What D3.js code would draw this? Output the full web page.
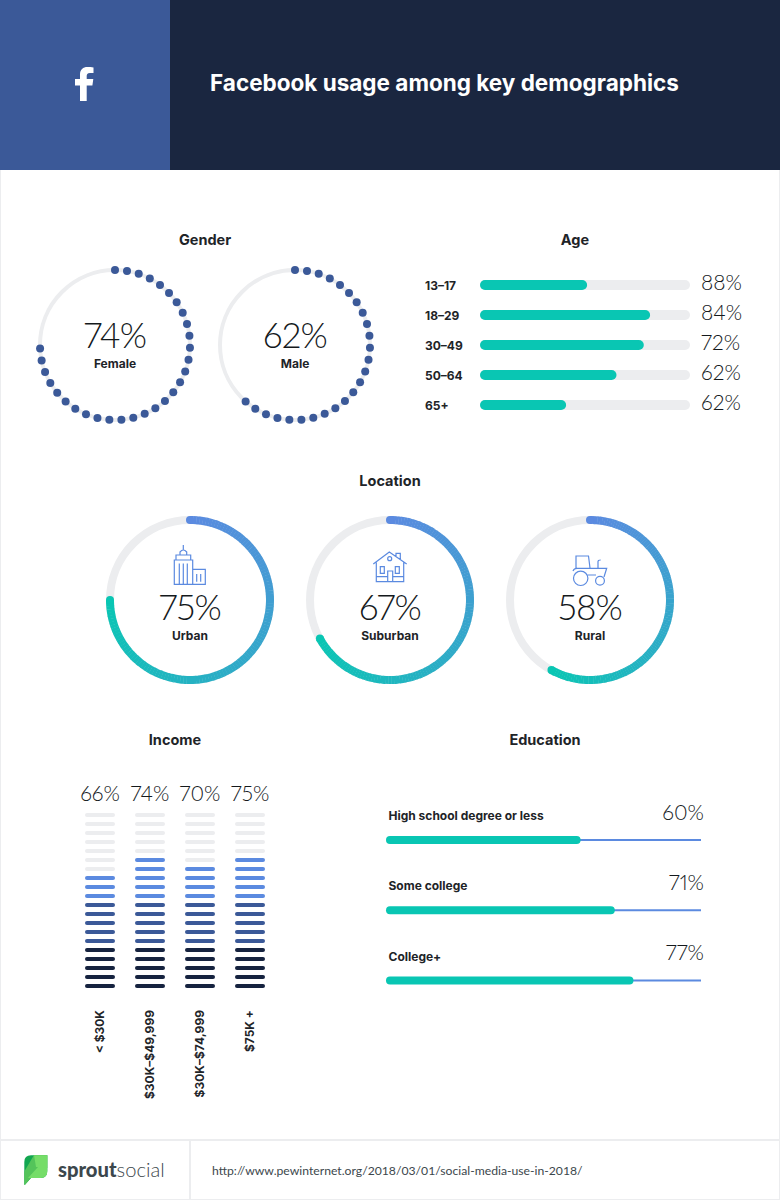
<!DOCTYPE html>
<html>
<head>
<meta charset="utf-8">
<script src="https://cdnjs.cloudflare.com/ajax/libs/d3/7.8.5/d3.min.js"></script>
<style>
  html, body { margin: 0; padding: 0; background: #fff; }
  svg { display: block; font-family: Inter, Lato, sans-serif; }
  .title { font-size: 14.5px; font-weight: 700; fill: #1e2428; text-anchor: middle; }
  .big { font-family: Lato, sans-serif; font-weight: 300; fill: #14191c; font-variant-numeric: proportional-nums; }
  .small { font-size: 12px; font-weight: 700; fill: #1e2428; }
  .icon { fill: none; stroke: #5b8ae0; stroke-width: 1.2; }
</style>
</head>
<body>
<svg id="chart" width="780" height="1200"></svg>
<script>
const genderLabels = ['Female', 'Male'];
const genderValues = [74, 62];

const ageLabels = ['13–17', '18–29', '30–49', '50–64', '65+'];
const ageBars = [51, 81, 78, 65, 41];
const agePercents = ['88%', '84%', '72%', '62%', '62%'];

const locationLabels = ['Urban', 'Suburban', 'Rural'];
const locationValues = [75, 67, 58];

const incomeLabels = ['< $30K', '$30K–$49,999', '$30K–$74,999', '$75K +'];
const incomeValues = [66, 74, 70, 75];

const eduLabels = ['High school degree or less', 'Some college', 'College+'];
const eduValues = [60, 71, 77];

const navy = '#1a2640', fbBlue = '#3b5998', lightBlue = '#5b8ae0', teal = '#09c6b3', track = '#ecedef';

const svg = d3.select('#chart');
const angle = d3.scaleLinear().domain([0, 100]).range([0, 2 * Math.PI]);

// header
svg.append('rect').attr('width', 780).attr('height', 170).attr('fill', navy);
svg.append('rect').attr('width', 170).attr('height', 170).attr('fill', fbBlue);
svg.append('path').attr('fill', '#fff')
  .attr('d', 'M80,101 V85.5 H75 V79 H80 V74.5 C80,69.5 83,67 87.5,67 C89.5,67 91.5,67.2 93.5,67.4 V73 H90 C87.2,73 86.7,74.3 86.7,76.2 V79 H93.3 L92.4,85.5 H86.7 V101 Z');
svg.append('text').attr('x', 210).attr('y', 91)
  .attr('fill', '#fff').attr('font-size', 22.5).attr('font-weight', 700)
  .text('Facebook usage among key demographics');

// page frame
svg.append('path').attr('fill', 'none').attr('stroke', track).attr('stroke-width', 2)
  .attr('d', 'M0,170 V1200 M780,170 V1200 M0,1140 H780 M190,1140 V1200 M0,1200 H780');

const sections = [['Gender', 205, 245], ['Age', 575, 245], ['Location', 390, 486], ['Income', 175, 745], ['Education', 545, 745]];
svg.selectAll('.title').data(sections).join('text')
  .attr('class', 'title').attr('x', d => d[1]).attr('y', d => d[2]).text(d => d[0]);

// gender dot rings
const dotStep = 2.56;
const genderX = d3.scalePoint().domain(genderLabels).range([115, 295]);
genderLabels.forEach((name, i) => {
  const g = svg.append('g').attr('transform', `translate(${genderX(name)},345)`);
  g.append('circle').attr('r', 75).attr('fill', 'none').attr('stroke', track).attr('stroke-width', 4);
  g.selectAll('.dot').data(d3.range(0, genderValues[i] + 1, dotStep)).join('circle')
    .attr('class', 'dot').attr('r', 4).attr('fill', fbBlue)
    .attr('cx', d => 75 * Math.sin(angle(d)))
    .attr('cy', d => -75 * Math.cos(angle(d)));
  g.append('text').attr('class', 'big').attr('text-anchor', 'middle').attr('y', 3).attr('font-size', 35)
    .attr('letter-spacing', -0.8).text(genderValues[i] + '%');
  g.append('text').attr('class', 'small').attr('text-anchor', 'middle').attr('y', 23).text(name);
});

// age bars
const ageX = d3.scaleLinear().domain([0, 100]).range([480, 690]);
const ageY = d3.scalePoint().domain(ageLabels).range([285, 405]);
const ageRows = svg.selectAll('.age').data(ageLabels).join('g').attr('class', 'age')
  .attr('transform', d => `translate(0,${ageY(d)})`);
ageRows.append('rect').attr('x', ageX(0)).attr('y', -5).attr('height', 10).attr('rx', 5)
  .attr('width', ageX(100) - ageX(0)).attr('fill', track);
ageRows.append('rect').attr('x', ageX(0)).attr('y', -5).attr('height', 10).attr('rx', 5)
  .attr('width', (d, i) => ageX(ageBars[i]) - ageX(0)).attr('fill', teal);
ageRows.append('text').attr('class', 'small').attr('x', 425).attr('y', 4.5).text(d => d);
ageRows.append('text').attr('class', 'big').attr('x', 701).attr('y', 5).attr('font-size', 21)
  .text((d, i) => agePercents[i]);

// location rings, colour runs along the arc
const ringX = d3.scalePoint().domain(locationLabels).range([190, 590]);
const ringArc = d3.arc().innerRadius(76).outerRadius(84);
const ringColor = d3.interpolateRgb(lightBlue, teal);
locationLabels.forEach((name, i) => {
  const g = svg.append('g').attr('transform', `translate(${ringX(name)},600)`);
  g.append('circle').attr('r', 80).attr('fill', 'none').attr('stroke', track).attr('stroke-width', 8);
  const v = locationValues[i];
  const steps = d3.range(0, 120).map(k => k / 120);
  g.selectAll('.seg').data(steps).join('path').attr('class', 'seg')
    .attr('fill', d => ringColor(d))
    .attr('d', d => ringArc({ startAngle: angle(v * d), endAngle: angle(v * (d + 1 / 120)) + 0.004 }));
  [0, 1].forEach(t => {
    g.append('circle').attr('r', 4).attr('fill', ringColor(t))
      .attr('cx', 80 * Math.sin(angle(v * t)))
      .attr('cy', -80 * Math.cos(angle(v * t)));
  });
  g.append('text').attr('class', 'big').attr('text-anchor', 'middle').attr('y', 20).attr('font-size', 35)
    .attr('letter-spacing', -0.8).text(v + '%');
  g.append('text').attr('class', 'small').attr('text-anchor', 'middle').attr('y', 40).text(name);
});

// location icons
const icons = svg.append('g').attr('class', 'icon');
icons.append('path').attr('d',
  'M174.3,584.3 V560 H192.7 V584.3 Z M176,560 V555 H190.7 V560 M180,555 V552 Q183.3,548 186.7,552 V555 M183.3,549.5 V545 ' +
  'M179.3,563.5 V584 M183.3,563.5 V584 M187.3,563.5 V584 M192.7,569.3 H205.3 V584.3 H192.7 M196.7,574 V581.7 M200.7,574 V581.7');
icons.append('path').attr('d',
  'M373.3,564 L389.3,552 L406.7,564 M376.3,562.5 V581.7 H403.7 V562.5 M376.3,576.7 H387.7 M392.7,576.7 H403.7 ' +
  'M387.7,581.7 V571 H392.7 V581.7 M380.3,566.7 H384.3 V573.3 H380.3 Z M395.3,566.7 H399.3 V573.3 H395.3 Z M396,556 V553.3 H400.3 V559');
icons.append('circle').attr('cx', 389.7).attr('cy', 558.7).attr('r', 2);
icons.append('path').attr('d',
  'M576,568 V556 H588.5 L590,568 M573,571 Q574,568.3 577,568.3 H606.7 L604,577 M587.5,575 H596 M598,568.3 V561.5 Q598,560 600.7,560');
icons.append('circle').attr('cx', 580.7).attr('cy', 578.3).attr('r', 7.2);
icons.append('circle').attr('cx', 600).attr('cy', 580.7).attr('r', 4.4);

// income stacks: each tick is 5%
const incomeX = d3.scalePoint().domain(incomeLabels).range([100, 250]);
const tickY = d3.scaleLinear().domain([0, 19]).range([986, 815]);
const tickColor = k => k < 5 ? '#16233f' : k < 10 ? fbBlue : lightBlue;
incomeLabels.forEach((name, i) => {
  const g = svg.append('g').attr('transform', `translate(${incomeX(name)},0)`);
  const filled = Math.round(incomeValues[i] / 5);
  g.selectAll('rect').data(d3.range(20)).join('rect')
    .attr('x', -15).attr('width', 30).attr('height', 4).attr('rx', 2)
    .attr('y', d => tickY(d) - 2)
    .attr('fill', d => d < filled ? tickColor(d) : track);
  g.append('text').attr('class', 'big').attr('text-anchor', 'middle').attr('y', 801).attr('font-size', 21).text(incomeValues[i] + '%');
  g.append('text').attr('class', 'small').attr('text-anchor', 'end')
    .attr('transform', 'translate(3.5,1010) rotate(-90)').text(name);
});

// education bars
const eduX = d3.scaleLinear().domain([0, 100]).range([390, 701]);
const eduY = d3.scalePoint().domain(eduLabels).range([840, 980.6]);
const eduRows = svg.selectAll('.edu').data(eduLabels).join('g').attr('class', 'edu')
  .attr('transform', d => `translate(0,${eduY(d)})`);
eduRows.append('line').attr('x1', eduX(0)).attr('x2', eduX(100)).attr('stroke', lightBlue).attr('stroke-width', 2);
eduRows.append('line').attr('x1', eduX(0)).attr('x2', (d, i) => eduX(eduValues[i]))
  .attr('stroke', teal).attr('stroke-width', 8).attr('stroke-linecap', 'round');
eduRows.append('text').attr('class', 'small').attr('x', 388.5).attr('y', -20).text(d => d);
eduRows.append('text').attr('class', 'big').attr('x', 704).attr('y', -20.5).attr('text-anchor', 'end').attr('font-size', 21)
  .text((d, i) => eduValues[i] + '%');

// footer
const leaf = 'M24.3,1162 Q24.3,1155.3 31,1155.3 H47.3 V1171 Q47.3,1178 41,1178 H31 L25,1184.7 H24.3 Z';
svg.append('clipPath').attr('id', 'leaf').append('path').attr('d', leaf);
const logo = svg.append('g').attr('clip-path', 'url(#leaf)');
logo.append('rect').attr('x', 24).attr('y', 1155).attr('width', 24).attr('height', 30).attr('fill', '#12a650');
logo.append('path').attr('fill', '#54c45a').attr('d', 'M34,1155 H48 V1168 H40 L27,1185 H24 V1172 Z');
logo.append('path').attr('fill', '#75dd68').attr('d', 'M34,1155 H48 V1167 H36 Z M28,1178 L38,1167 H48 V1178 Z');
const brand = svg.append('text').attr('x', 58).attr('y', 1177).attr('font-size', 20.2).attr('font-family', 'Lato').attr('fill', '#3c474c');
brand.append('tspan').attr('font-weight', 900).text('sprout');
brand.append('tspan').attr('font-weight', 300).text('social');
svg.append('text').attr('x', 212).attr('y', 1175).attr('font-size', 12.2).attr('font-family', 'Lato').attr('fill', '#3c474c')
  .text('http://www.pewinternet.org/2018/03/01/social-media-use-in-2018/');
</script>
</body>
</html>
